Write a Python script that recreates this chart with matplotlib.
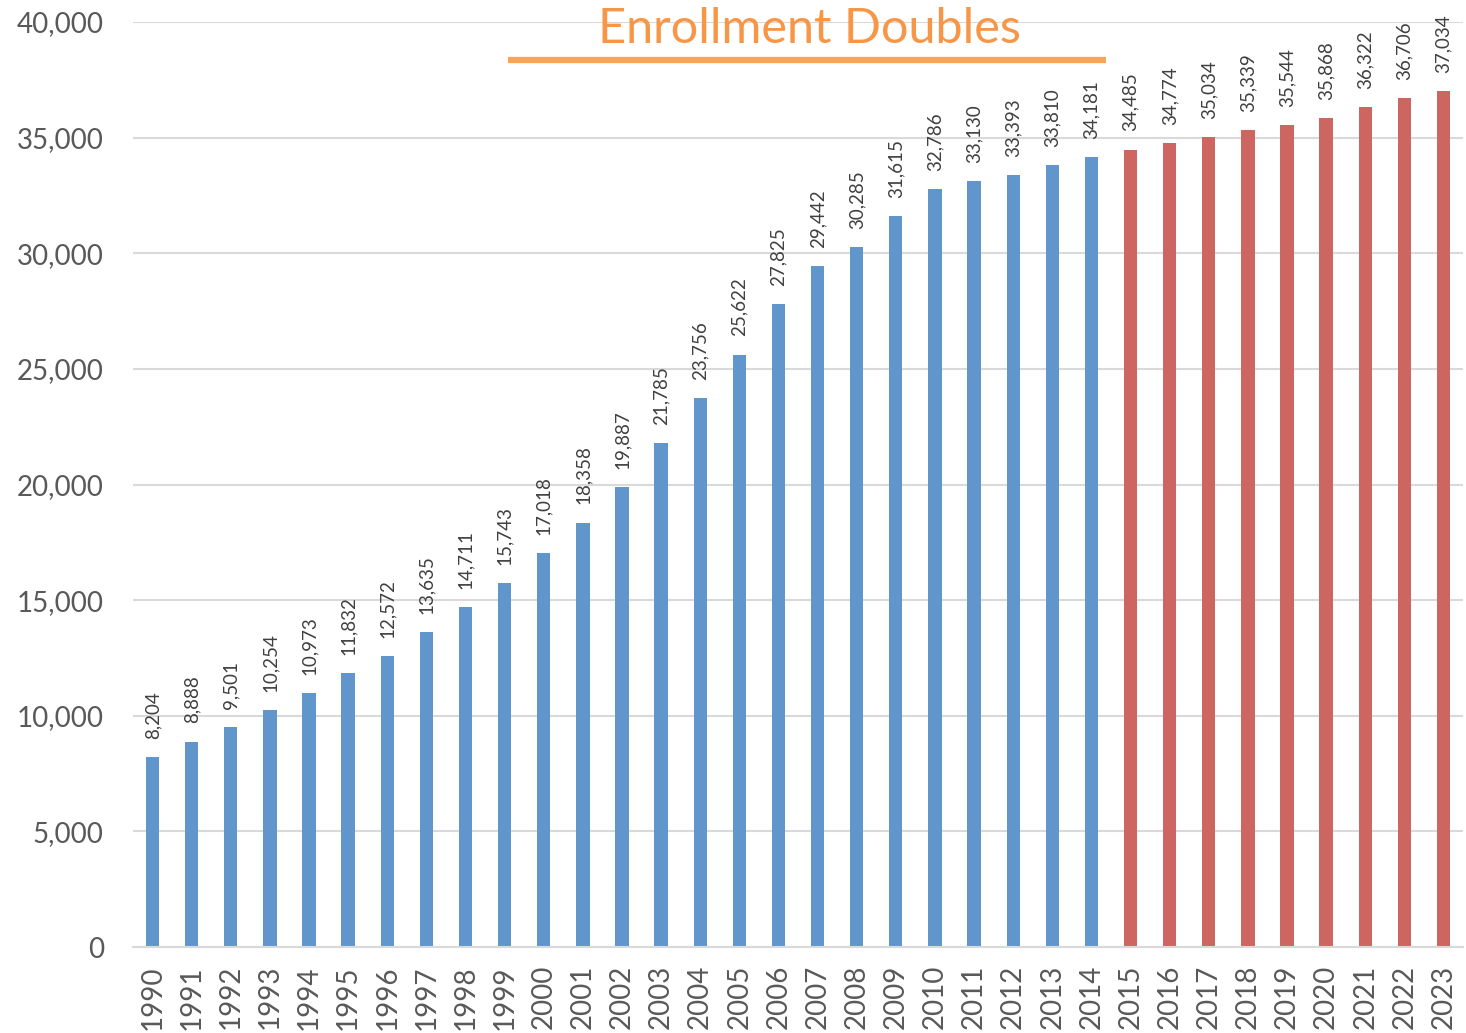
import matplotlib
matplotlib.use("Agg")
import matplotlib.pyplot as plt
from matplotlib.ticker import FuncFormatter

years = list(range(1990, 2024))
enrollment = [8204, 8888, 9501, 10254, 10973, 11832, 12572, 13635, 14711, 15743,
              17018, 18358, 19887, 21785, 23756, 25622, 27825, 29442, 30285, 31615,
              32786, 33130, 33393, 33810, 34181, 34485, 34774, 35034, 35339, 35544,
              35868, 36322, 36706, 37034]
projection_start = 2015
title_text = "Enrollment Doubles"

blue = "#6096CB"
red = "#CD6660"
orange_text = "#F79646"
orange_line = "#F9A558"

fig = plt.figure(figsize=(14.66, 10.33), dpi=100)
ax = fig.add_axes([0.0907, 0.0832, 0.9073, 0.8955])

x = list(range(len(years)))
colors = [blue if y < projection_start else red for y in years]
bars = ax.bar(x, enrollment, width=0.34, color=colors, zorder=3)

labels = [f"{v:,}" for v in enrollment]
ax.bar_label(bars, labels=labels, rotation=90, padding=13, fontsize=13.5,
             color="#404040", family="Lato")

ax.set_xlim(-0.5, len(years) - 0.5)
ax.set_ylim(0, 40000)
ax.set_yticks(range(0, 40001, 5000))
ax.yaxis.set_major_formatter(FuncFormatter(lambda v, p: f"{int(v):,}"))
ax.set_xticks(x)
ax.set_xticklabels([str(y) for y in years], rotation=90)

ax.grid(axis="y", color="#D9D9D9", linewidth=1.5, zorder=0)
for s in ["top", "right", "left"]:
    ax.spines[s].set_visible(False)
ax.spines["bottom"].set_color("#D9D9D9")
ax.spines["bottom"].set_linewidth(1.5)
ax.spines["bottom"].set_zorder(4)
ax.tick_params(axis="both", length=0, labelcolor="#595959")
ax.tick_params(axis="y", pad=21, labelsize=20)
ax.tick_params(axis="x", pad=13, labelsize=20)
for lab in ax.get_xticklabels() + ax.get_yticklabels():
    lab.set_family("Lato")

ax.plot([9.09, 24.37], [38350, 38350], color=orange_line, linewidth=4.5,
        solid_capstyle="butt", clip_on=False, zorder=5)
ax.text(16.8, 39700, title_text, color=orange_text, fontsize=35, family="Lato",
        ha="center", va="center", zorder=5)

fig.savefig("out.png", dpi=100)
